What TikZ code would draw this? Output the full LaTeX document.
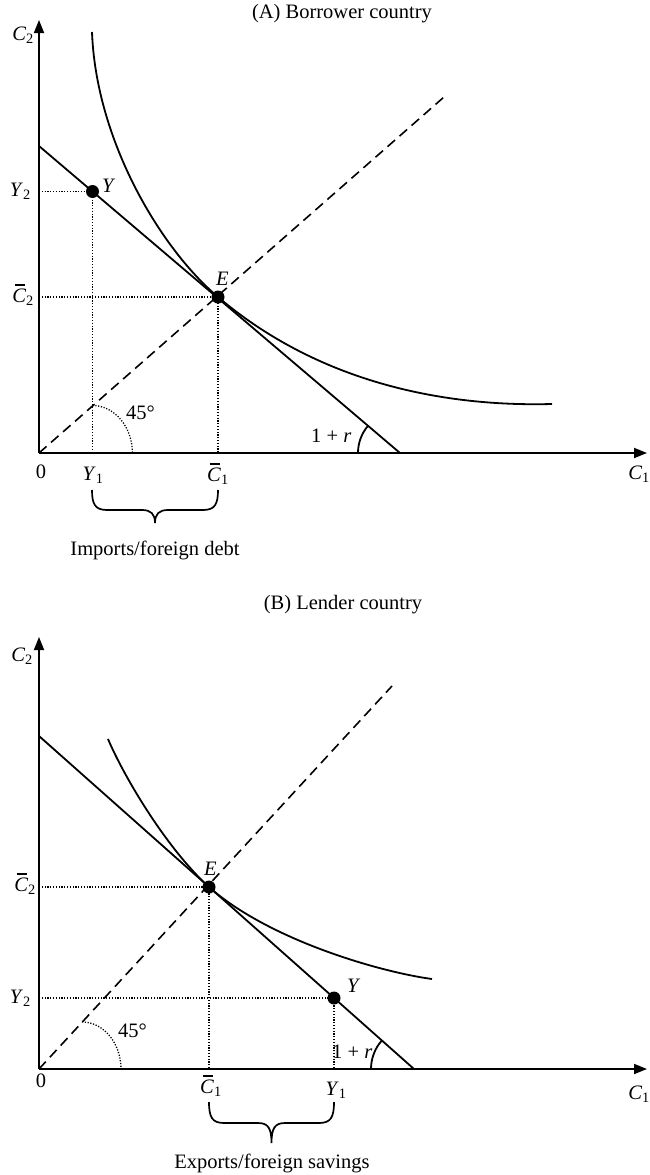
\documentclass[tikz,border=0pt]{standalone}
\usepackage{fontspec}
\setmainfont{Liberation Serif}
\usetikzlibrary{arrows.meta,calc}
\newcommand{\cbar}{\textit{C}\llap{\rule[0.8em]{0.5em}{0.055em}\hspace{0.06em}}}
\begin{document}
\begin{tikzpicture}[x=1pt,y=-1pt,
  lab/.style={inner sep=0pt, font=\fontsize{20.5}{24}\selectfont},
  axis/.style={line width=1.8pt, -{Triangle[length=13pt,width=10pt]}},
  curve/.style={line width=1.8pt},
  guide/.style={line width=1.3pt, dash pattern=on 1.2pt off 1.6pt},
  diag/.style={line width=1.6pt, dash pattern=on 10pt off 6pt},
  bracestyle/.style={line width=1.7pt},
  dot/.style={circle, fill=black, inner sep=0pt, minimum size=13pt}]
\useasboundingbox (0,0) rectangle (649,1175);

% ================= Panel A =================
\coordinate (OA) at (39,453);
\coordinate (AyT) at (39,20);
\coordinate (AxT) at (647,453);
\coordinate (AB0) at (39,146);
\coordinate (AB1) at (400,453);
\coordinate (AD1) at (444,97);
\coordinate (AI0) at (92,32);
\coordinate (AI1) at (552,404);
\coordinate (AEp) at (218,297);
\coordinate (AYp) at (92.5,191.5);
\coordinate (A45) at (92.5,405.5);
\coordinate (Arr) at (358,453);

\draw[axis] (OA) -- (AyT);
\draw[axis] (OA) -- (AxT);
\draw[curve] (AB0) -- (AB1);
\draw[diag] (OA) -- (AD1);
\draw[curve] (AI0) .. controls (96,140) and (160,248) .. (AEp)
  .. controls (317,381) and (440,407) .. (AI1);
\draw[guide] (AYp -| OA) -- (AYp) -- (AYp |- OA);
\draw[guide] (AEp -| OA) -- (AEp) -- (AEp |- OA);
\draw[guide] (A45) arc[start angle=-90, end angle=0, x radius=40, y radius=48];
\draw[curve] (Arr) arc[start angle=180, end angle=220.4, radius=42];
\node[dot] (AY) at (AYp) {};
\node[dot] (AE) at (AEp) {};

\node[lab, anchor=base] (tA) at (342,19) {(A) Borrower country};
\node[lab, anchor=base east] (AlC2) at (34,40) {\textit{C}\textsubscript{2}};
\node[lab, anchor=base east] (AlY2) at (31,196) {\textit{Y}\textsubscript{2}};
\node[lab, anchor=base east] (AlCb2) at (34,302) {\cbar\textsubscript{2}};
\node[lab, anchor=base] (Al0) at (41,478) {0};
\node[lab, anchor=base] (AlY1) at (93,480) {\textit{Y}\textsubscript{1}};
\node[lab, anchor=base] (AlCb1) at (218,481) {\cbar\textsubscript{1}};
\node[lab, anchor=base east] (AlC1) at (650,479) {\textit{C}\textsubscript{1}};
\node[lab, anchor=base west] (AlY) at (102,192) {\textit{Y}};
\node[lab, anchor=base west] (AlE) at (216,285) {\textit{E}};
\node[lab, anchor=base west] (Al45) at (126,419) {45°};
\node[lab, anchor=base west] (Alr) at (311,442) {1 + \textit{r}};
\draw[bracestyle] (92,490) .. controls (92,504) and (95,510) .. (107,510) -- (142,510)
  .. controls (151,510) and (155,514) .. (155,523)
  .. controls (155,514) and (159,510) .. (168,510) -- (203,510)
  .. controls (215,510) and (218,504) .. (218,490);
\node[lab, anchor=base] (AlImp) at (155,555) {Imports/foreign debt};

% ================= Panel B =================
\coordinate (OB) at (39,1069);
\coordinate (ByT) at (39,637);
\coordinate (BxT) at (647,1069);
\coordinate (BB0) at (39,736);
\coordinate (BB1) at (414,1069);
\coordinate (BD1) at (392,686);
\coordinate (BI0) at (108,739);
\coordinate (BI1) at (432,979);
\coordinate (BEp) at (209,887);
\coordinate (BYp) at (334,998);
\coordinate (B45) at (82,1022);
\coordinate (Brr) at (371,1069);

\draw[axis] (OB) -- (ByT);
\draw[axis] (OB) -- (BxT);
\draw[curve] (BB0) -- (BB1);
\draw[diag] (OB) -- (BD1);
\draw[curve] (BI0) .. controls (125,779) and (168,850) .. (BEp)
  .. controls (269,940) and (380,972) .. (BI1);
\draw[guide] (BEp -| OB) -- (BEp) -- (BEp |- OB);
\draw[guide] (BYp -| OB) -- (BYp) -- (BYp |- OB);
\draw[guide] (B45) arc[start angle=-90, end angle=0, x radius=39, y radius=47];
\draw[curve] (Brr) arc[start angle=180, end angle=221.6, radius=43];
\node[dot] (BE) at (BEp) {};
\node[dot] (BY) at (BYp) {};

\node[lab, anchor=base] (tB) at (343,609) {(B) Lender country};
\node[lab, anchor=base east] (BlC2) at (33,661) {\textit{C}\textsubscript{2}};
\node[lab, anchor=base east] (BlCb2) at (36,891) {\cbar\textsubscript{2}};
\node[lab, anchor=base east] (BlY2) at (31,1003) {\textit{Y}\textsubscript{2}};
\node[lab, anchor=base] (Bl0) at (41,1087) {0};
\node[lab, anchor=base] (BlCb1) at (211,1093) {\cbar\textsubscript{1}};
\node[lab, anchor=base] (BlY1) at (336,1095) {\textit{Y}\textsubscript{1}};
\node[lab, anchor=base east] (BlC1) at (650,1099) {\textit{C}\textsubscript{1}};
\node[lab, anchor=base west] (BlE) at (204,875) {\textit{E}};
\node[lab, anchor=base west] (BlY) at (347,992) {\textit{Y}};
\node[lab, anchor=base west] (Bl45) at (118,1037) {45°};
\node[lab, anchor=base west] (Blr) at (332,1058) {1 + \textit{r}};
\draw[bracestyle] (209,1102) .. controls (209,1117) and (212,1123) .. (224,1123) -- (258,1123)
  .. controls (268,1123) and (271.5,1128) .. (271.5,1143)
  .. controls (271.5,1128) and (275,1123) .. (285,1123) -- (319,1123)
  .. controls (331,1123) and (334,1117) .. (334,1102);
\node[lab, anchor=base] (BlExp) at (272,1168) {Exports/foreign savings};
\end{tikzpicture}
\end{document}
